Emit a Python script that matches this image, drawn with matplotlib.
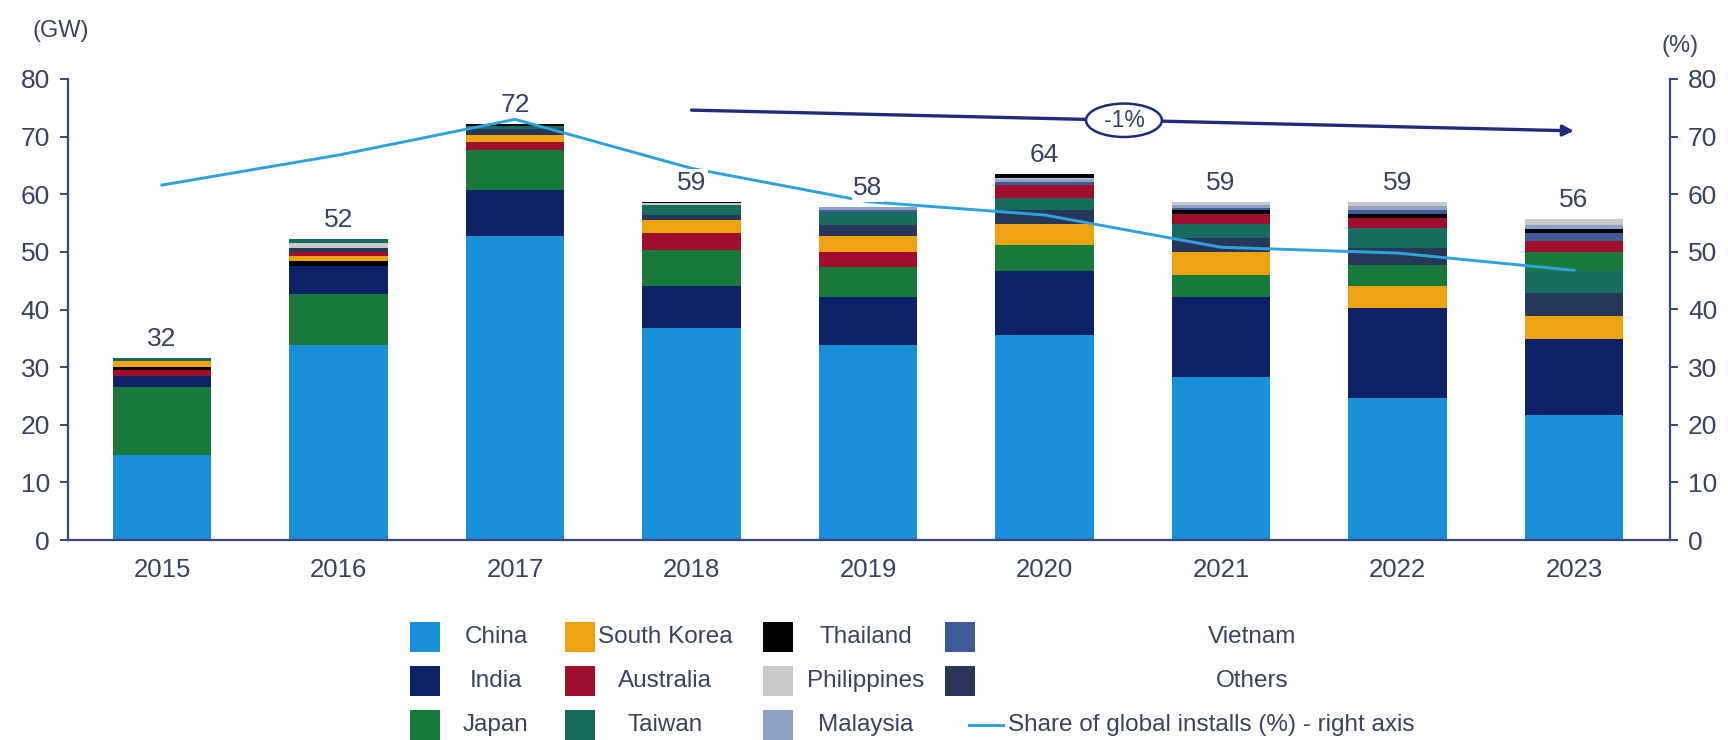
import matplotlib.pyplot as plt
from matplotlib.patches import Ellipse, Rectangle
from matplotlib.lines import Line2D

plt.rcParams["font.family"] = ["Liberation Sans", "DejaVu Sans"]

# annual installs (GW) per market
years = ["2015", "2016", "2017", "2018", "2019", "2020", "2021", "2022", "2023"]
countries = ["China", "India", "Japan", "South Korea", "Australia", "Taiwan",
             "Thailand", "Philippines", "Malaysia", "Vietnam", "Others"]

china = [14.8, 33.9, 52.8, 36.75, 33.85, 35.6, 28.2, 24.6, 21.7]
india = [1.95, 4.9, 8.0, 7.35, 8.25, 11.15, 14.05, 15.6, 13.15]
japan = [11.75, 8.8, 6.9, 6.25, 5.2, 4.45, 3.75, 3.65, 3.3]
south_korea = [1.0, 0.8, 1.3, 2.2, 2.75, 3.65, 3.9, 3.9, 4.1]
australia = [1.05, 0.7, 1.3, 3.0, 2.75, 2.3, 1.65, 1.75, 1.9]
taiwan = [0.45, 0.7, 0.6, 1.7, 2.3, 2.0, 2.5, 3.5, 3.95]
thailand = [0.55, 0.9, 0.3, 0.3, 0.0, 0.7, 0.8, 0.75, 0.7]
philippines = [0.0, 0.8, 0.0, 0.3, 0.0, 0.3, 0.5, 0.8, 1.0]
malaysia = [0.0, 0.0, 0.0, 0.0, 0.4, 0.4, 0.5, 0.7, 0.7]
vietnam = [0.0, 0.0, 0.0, 0.0, 0.35, 0.6, 0.4, 0.6, 1.3]
others = [0.0, 0.7, 1.0, 0.85, 1.9, 2.45, 2.45, 2.85, 3.85]

# share of global installs (%), right axis
share = [61.6, 66.8, 73.0, 64.5, 58.7, 56.4, 50.8, 49.8, 46.8]

# stacking order, bottom to top, for each year
stack_order = [
    ["China", "Japan", "India", "Australia", "Thailand", "South Korea", "Taiwan"],
    ["China", "Japan", "India", "Thailand", "South Korea", "Australia", "Others", "Philippines", "Taiwan"],
    ["China", "India", "Japan", "Australia", "South Korea", "Others", "Taiwan", "Thailand"],
    ["China", "India", "Japan", "Australia", "South Korea", "Others", "Taiwan", "Philippines", "Thailand"],
    ["China", "India", "Japan", "Australia", "South Korea", "Others", "Taiwan", "Vietnam", "Malaysia"],
    ["China", "India", "Japan", "South Korea", "Others", "Taiwan", "Australia", "Vietnam", "Malaysia",
     "Philippines", "Thailand"],
    ["China", "India", "Japan", "South Korea", "Others", "Taiwan", "Australia", "Thailand", "Vietnam",
     "Malaysia", "Philippines"],
    ["China", "India", "South Korea", "Japan", "Others", "Taiwan", "Australia", "Thailand", "Vietnam",
     "Malaysia", "Philippines"],
    ["China", "India", "South Korea", "Others", "Taiwan", "Japan", "Australia", "Vietnam", "Thailand",
     "Malaysia", "Philippines"],
]

# CAGR callout: from 2018 to 2023
trend_years = (3, 8)
trend_level = (74.6, 71.0)
trend_text = "-1%"

series = dict(zip(countries, [china, india, japan, south_korea, australia, taiwan,
                              thailand, philippines, malaysia, vietnam, others]))
colors = {
    "China": "#1a8fd9", "India": "#0c2167", "Japan": "#17793a",
    "South Korea": "#eea20f", "Australia": "#a10e2b", "Taiwan": "#156c5f",
    "Thailand": "#000000", "Philippines": "#c9c9cb", "Malaysia": "#8ea1c7",
    "Vietnam": "#3f5a98", "Others": "#27375a",
}
line_color = "#2ea3de"
navy = "#1f2e7a"
spine_color = "#3a4778"
text_color = "#39445f"

W, H = 1728, 740
fig = plt.figure(figsize=(W / 100, H / 100), dpi=100)
ax = fig.add_axes([68 / W, 1 - 540 / H, (1670 - 68) / W, (540 - 79) / H])
ax2 = ax.twinx()

x = list(range(len(years)))
bar_w = 0.56
totals = []
for i in x:
    bottom = 0.0
    for name in stack_order[i]:
        v = series[name][i]
        ax.bar(i, v, bottom=bottom, width=bar_w, color=colors[name], linewidth=0)
        bottom += v
    totals.append(sum(series[name][i] for name in countries))

ax2.plot(x, share, color=line_color, lw=2.1, zorder=3)

for i, tot in zip(x, totals):
    ax2.annotate(f"{tot:.0f}", xy=(i, tot), xycoords=ax.transData,
                 xytext=(0, 5), textcoords="offset points", ha="center", va="bottom",
                 fontsize=19, color=text_color, zorder=5,
                 bbox=dict(boxstyle="square,pad=0.05", fc="white", ec="none"))

# trend arrow with the growth rate in an oval
ax2.annotate("", xy=(trend_years[1], trend_level[1]), xytext=(trend_years[0], trend_level[0]),
             arrowprops=dict(arrowstyle="-|>", color=navy, lw=2.4, mutation_scale=16,
                             shrinkA=0, shrinkB=0), zorder=6)
frac = 0.49
ex = trend_years[0] + frac * (trend_years[1] - trend_years[0])
ey = trend_level[0] + frac * (trend_level[1] - trend_level[0])
ax2.add_patch(Ellipse((ex, ey), 0.43, 5.8, facecolor="white", edgecolor=navy, lw=1.8, zorder=7))
ax2.text(ex, ey, trend_text, ha="center", va="center", fontsize=16.5, color=text_color, zorder=8)

for a in (ax, ax2):
    a.set_xlim(-0.533, 8.544)
    a.set_ylim(0, 80)
    a.set_yticks(range(0, 81, 10))
    a.spines["top"].set_visible(False)
    for s in ("left", "right", "bottom"):
        a.spines[s].set_color(spine_color)
        a.spines[s].set_linewidth(1.6)
    a.tick_params(axis="y", length=6, width=1.4, color=spine_color, labelsize=19,
                  labelcolor=text_color, pad=7)
ax.spines["right"].set_visible(False)
ax2.spines["left"].set_visible(False)
ax2.spines["bottom"].set_visible(False)
ax.set_xticks(x)
ax.set_xticklabels(years)
ax.tick_params(axis="x", length=0, labelsize=18.5, labelcolor=text_color, pad=13)

fig.text(61 / W, 1 - 31 / H, "(GW)", ha="center", va="center", fontsize=17, color=text_color)
fig.text(1680 / W, 1 - 46 / H, "(%)", ha="center", va="center", fontsize=17, color=text_color)

# legend laid out in four columns of three rows
patch_left = [410, 565, 763, 945]
text_center = [496, 665, 866, 1252]
row_y = [637, 681, 725]
box = 30
for k, name in enumerate(countries):
    col, row = divmod(k, 3)
    y = row_y[row]
    fig.add_artist(Rectangle((patch_left[col] / W, (H - y - box / 2) / H), box / W, box / H,
                             transform=fig.transFigure, facecolor=colors[name], edgecolor="none"))
    fig.text(text_center[col] / W, 1 - y / H, name, ha="center", va="center",
             fontsize=17.5, color=text_color)
y = row_y[2]
fig.add_artist(Line2D([969 / W, 1003 / W], [1 - y / H, 1 - y / H], transform=fig.transFigure,
                      color=line_color, lw=2.1))
fig.text(1008 / W, 1 - y / H, "Share of global installs (%) - right axis", ha="left", va="center",
         fontsize=17.5, color=text_color)

fig.savefig("out.png", dpi=100)
